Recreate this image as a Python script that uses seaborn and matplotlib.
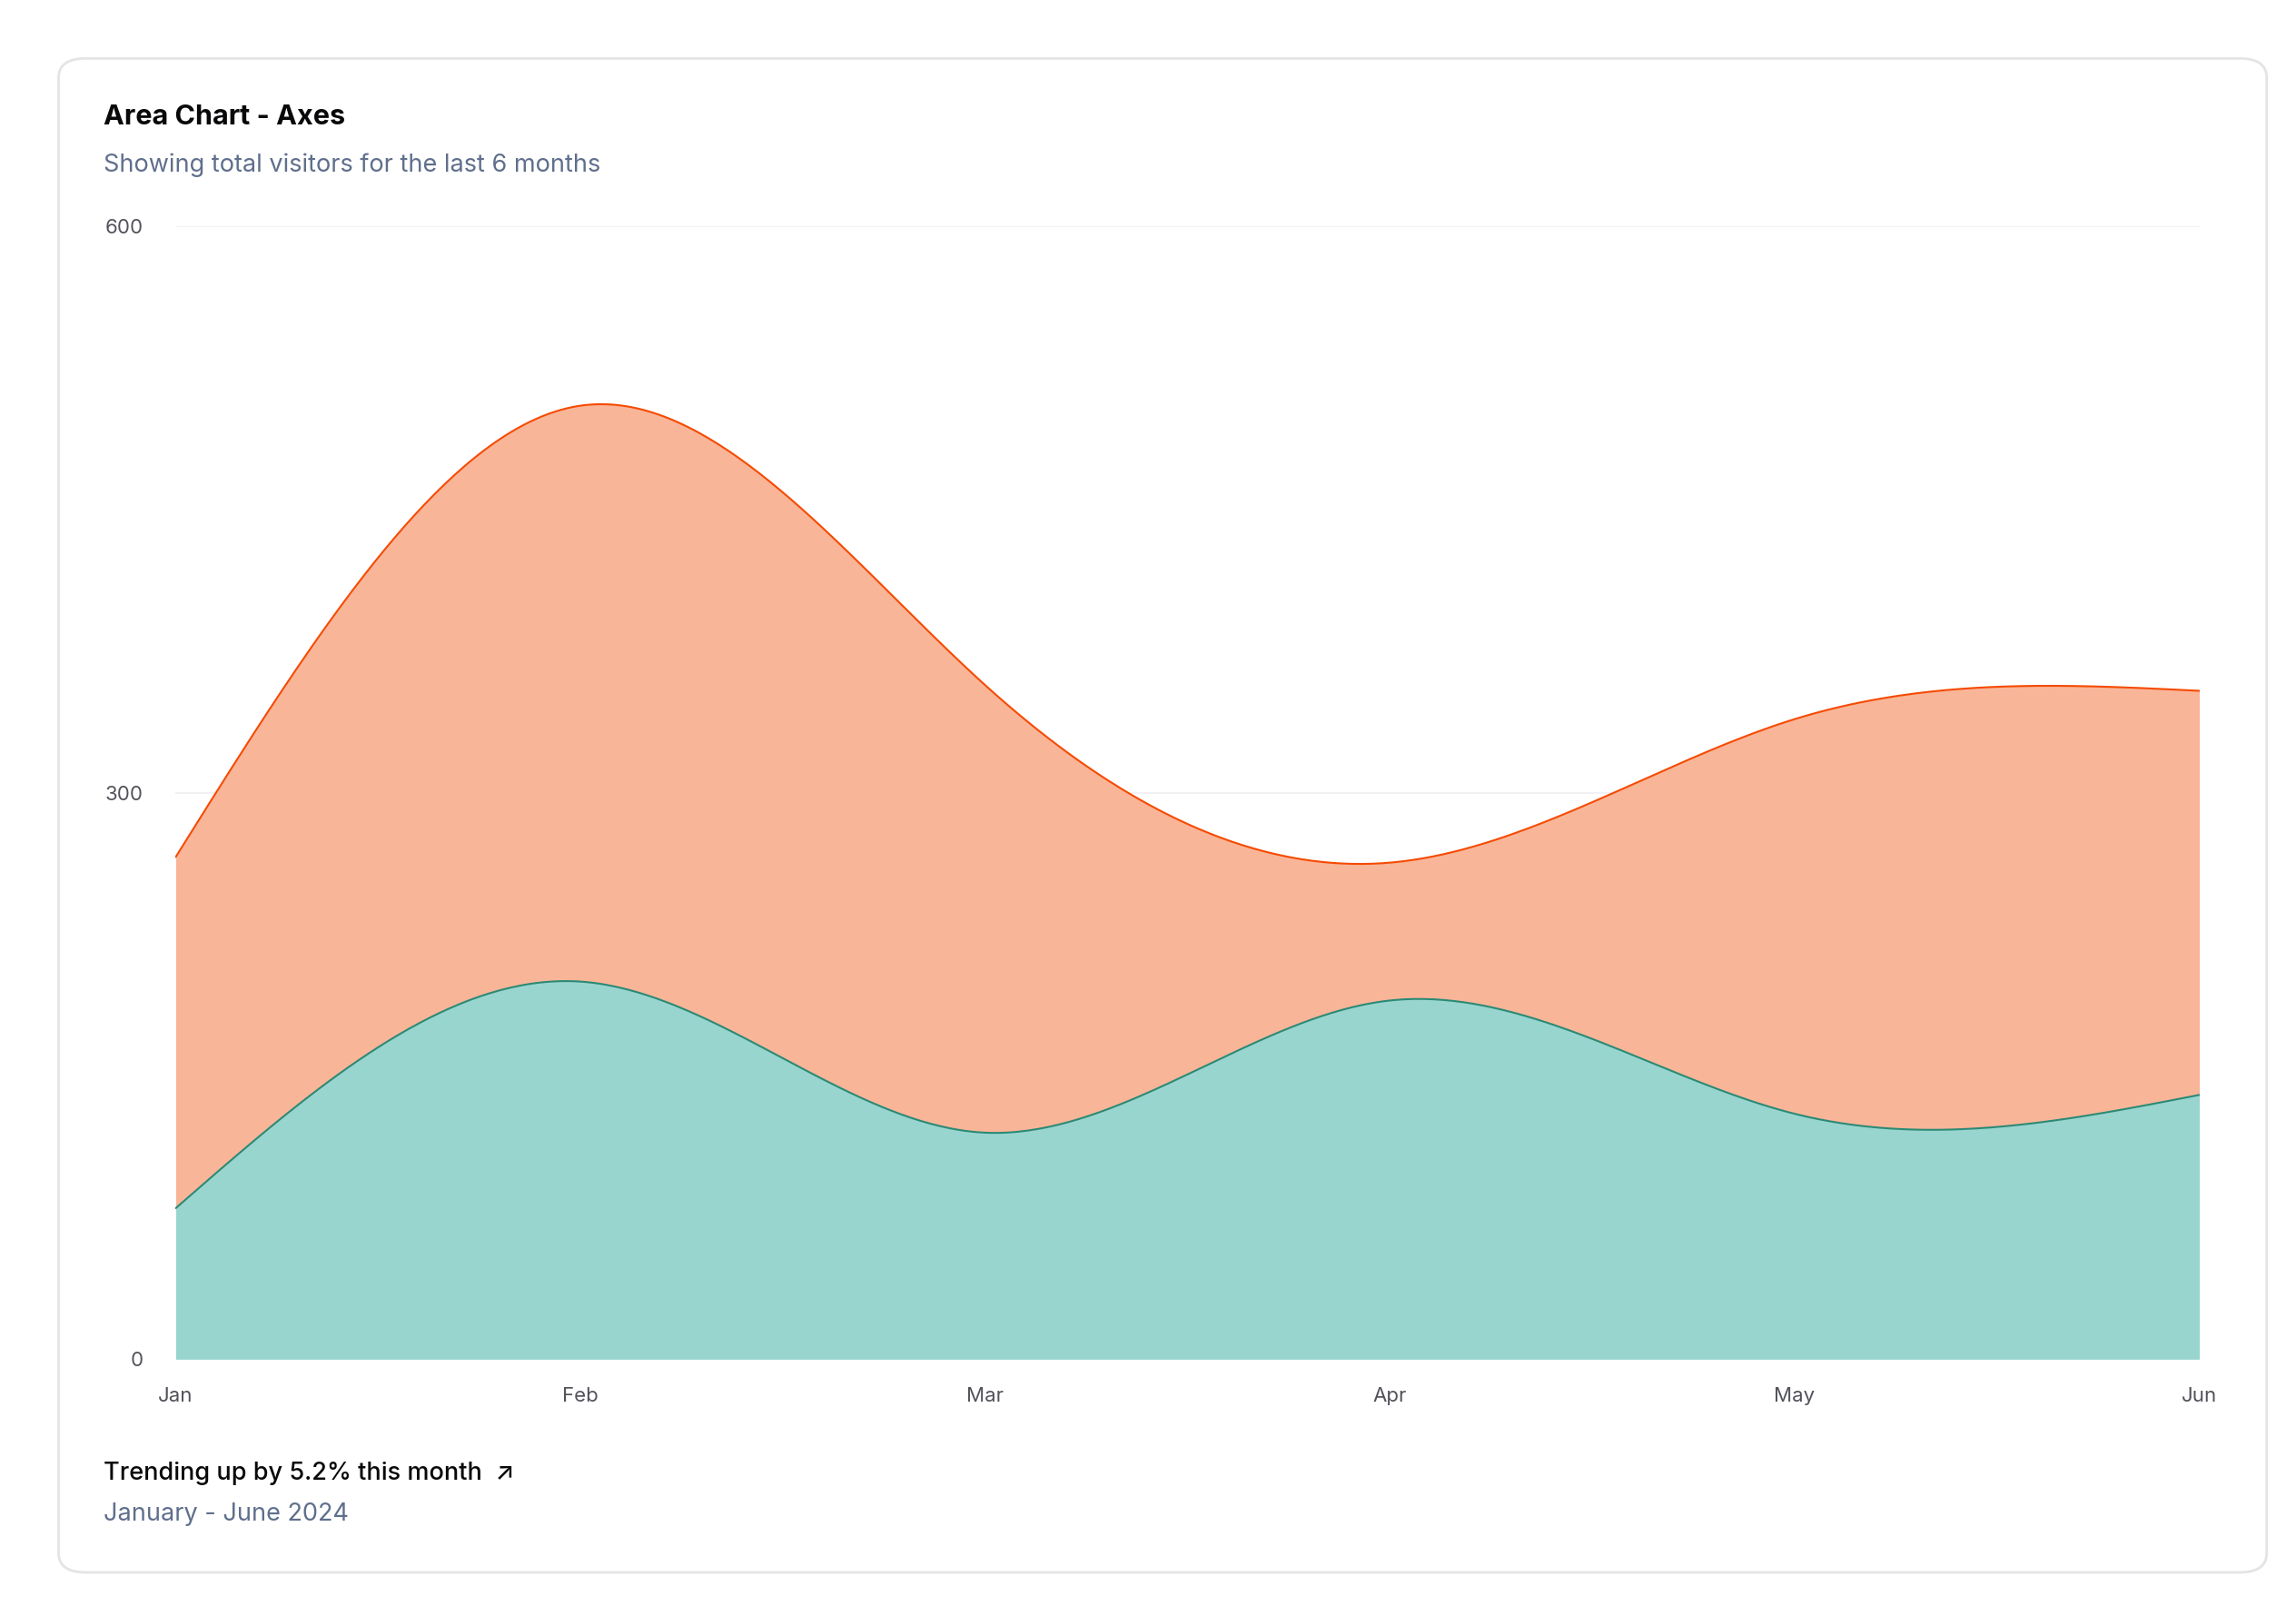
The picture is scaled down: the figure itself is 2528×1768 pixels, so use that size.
import numpy as np
import matplotlib
matplotlib.use("Agg")
import matplotlib.pyplot as plt
from matplotlib.patches import FancyBboxPatch
import seaborn as sns
import pandas as pd

months = ["Jan", "Feb", "Mar", "Apr", "May", "Jun"]
desktop = [186, 305, 237, 73, 209, 214]
mobile = [80, 200, 120, 190, 130, 140]

def natural_spline(y, n=400):
    y = np.asarray(y, float)
    k = len(y)
    A = np.zeros((k, k)); b = np.zeros(k)
    A[0, 0] = A[-1, -1] = 1
    for i in range(1, k - 1):
        A[i, i - 1], A[i, i], A[i, i + 1] = 1, 4, 1
        b[i] = 6 * (y[i + 1] - 2 * y[i] + y[i - 1])
    M = np.linalg.solve(A, b)
    xs = np.linspace(0, k - 1, n)
    ys = np.empty(n)
    for j, t in enumerate(xs):
        i = min(int(t), k - 2)
        u = t - i
        ys[j] = (M[i] * (1 - u) ** 3 / 6 + M[i + 1] * u ** 3 / 6
                 + (y[i] - M[i] / 6) * (1 - u) + (y[i + 1] - M[i + 1] / 6) * u)
    return xs, ys

sns.set_theme(style="white")
plt.rcParams["font.family"] = ["Inter", "DejaVu Sans"]

fig = plt.figure(figsize=(25.28, 17.68), dpi=100)
card = FancyBboxPatch((40/1568, 1-1077/1100), 1508/1568, 1037/1100,
                      boxstyle="round,pad=0,rounding_size=0.012",
                      transform=fig.transFigure, facecolor="white",
                      edgecolor="#e4e4e7", linewidth=2, zorder=-10)
fig.patches.append(card)

ax = fig.add_axes([120/1568, 1-931/1100, 1382/1568, 776/1100])
ax.set_zorder(5)
xs, ym = natural_spline(mobile)
_, yt = natural_spline(np.array(mobile) + np.array(desktop))
ax.fill_between(xs, 0, ym, color="#99d5cf", linewidth=0, zorder=2)
ax.fill_between(xs, ym, yt, color="#f9b598", linewidth=0, zorder=2)
df = pd.DataFrame({"x": np.concatenate([xs, xs]),
                   "y": np.concatenate([ym, yt]),
                   "s": ["m"] * len(xs) + ["t"] * len(xs)})
sns.lineplot(data=df, x="x", y="y", hue="s", palette={"m": "#2a8a75", "t": "#f54a00"},
             linewidth=1.5, legend=False, ax=ax, sort=False, estimator=None, zorder=3)
ax.set_xlim(0, 5); ax.set_ylim(0, 600)
ax.set_xticks(range(6)); ax.set_xticklabels(months)
ax.set_yticks([0, 300, 600])
for v in [300, 600]:
    ax.axhline(v, color="#f0f0f2", linewidth=1.2, zorder=1)
for s in ax.spines.values():
    s.set_visible(False)
ax.set_xlabel(""); ax.set_ylabel("")
ax.tick_params(axis="both", length=0, labelsize=16, colors="#52525b")
ax.tick_params(axis="y", pad=26)
ax.tick_params(axis="x", pad=22)
ax.patch.set_alpha(0)

fig.text(71/1568, 1-80/1100, "Area Chart - Axes", fontsize=22, fontweight="bold",
         color="#09090b", va="center")
fig.text(71/1568, 1-113/1100, "Showing total visitors for the last 6 months",
         fontsize=19.5, color="#5f6f8c", va="center")
fig.text(71/1568, 1-1009/1100, "Trending up by 5.2% this month  \u2197", fontsize=19.5,
         color="#09090b", va="center", fontweight="medium")
fig.text(71/1568, 1-1037/1100, "January - June 2024", fontsize=19.5,
         color="#5f6f8c", va="center")
fig.savefig("out.png", dpi=100, facecolor="white")
